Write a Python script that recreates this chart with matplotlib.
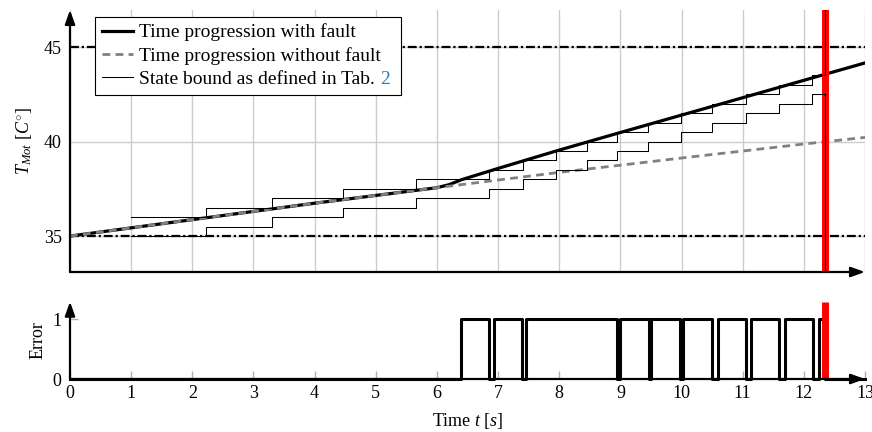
import matplotlib
matplotlib.use("Agg")
import matplotlib.pyplot as plt
import numpy as np

plt.rcParams['font.family'] = ['Liberation Serif', 'DejaVu Serif']
plt.rcParams['mathtext.fontset'] = 'custom'
plt.rcParams['mathtext.rm'] = 'Liberation Serif'
plt.rcParams['mathtext.it'] = 'Liberation Serif:italic'

# ---------------- data ----------------
t_fault = [0, 2, 4, 6.0, 6.2, 6.4, 7, 8, 9, 10, 11, 12, 13]
temp_fault = [35, 35.87, 36.74, 37.56, 37.72, 37.98, 38.58, 39.55, 40.48, 41.40, 42.32, 43.24, 44.16]

t_nominal = [0, 2, 4, 6, 8, 10, 12, 13]
temp_nominal = [35, 35.87, 36.74, 37.56, 38.37, 39.13, 39.87, 40.22]

bound_t = [1.0, 2.22, 3.31, 4.46, 5.65, 6.85, 7.41, 7.95, 8.45, 8.94, 9.45, 9.99, 10.50, 11.05, 11.59, 12.14]
bound_upper = [36.0, 36.5, 37.0, 37.5, 38.0, 38.5, 39.0, 39.5, 40.0, 40.5, 41.0, 41.5, 42.0, 42.5, 43.0, 43.5]
bound_lower = [35.0, 35.5, 36.0, 36.5, 37.0, 37.5, 38.0, 38.5, 39.0, 39.5, 40.0, 40.5, 41.0, 41.5, 42.0, 42.5]

t_stop = 12.34
limit_low = 35
limit_high = 45

error_on = [6.39, 6.94, 7.45, 9.00, 9.50, 10.03, 10.59, 11.14, 11.69, 12.24]
error_off = [6.85, 7.39, 8.94, 9.46, 9.98, 10.49, 11.05, 11.60, 12.15, 12.34]

x_ticks = list(range(0, 14))
y_ticks_top = [35, 40, 45]
y_ticks_bottom = [0, 1]

legend_labels = ['Time progression with fault', 'Time progression without fault',
                 'State bound as defined in Tab.']
table_ref = '2'

# ---------------- figure ----------------
W, H = 872, 432
fig = plt.figure(figsize=(W / 100, H / 100), dpi=100)
ax1 = fig.add_axes([70 / W, (H - 272) / H, 795 / W, 262 / H])
ax2 = fig.add_axes([70 / W, (H - 379) / H, 795 / W, (379 - 301.7) / H])

FS = 13
FS_LEG = 14
grid_col = '#cccccc'

# ----- top axes -----
ax1.set_xlim(0, 13)
ax1.set_ylim(33.1, 46.96)
ax1.set_xticks(x_ticks)
ax1.set_yticks(y_ticks_top)
ax1.tick_params(axis='x', length=0, labelbottom=False)
ax1.tick_params(axis='y', length=0, labelsize=FS, pad=6)
ax1.grid(True, color=grid_col, lw=1.0, zorder=0)
ax1.set_axisbelow(True)
for s in ax1.spines.values():
    s.set_visible(False)

ax1.axhline(limit_high, color='black', lw=1.6, ls=(0, (4, 1.3, 1, 1.3)), zorder=2)
ax1.axhline(limit_low, color='black', lw=1.6, ls=(0, (4, 1.3, 1, 1.3)), zorder=2)

l_fault, = ax1.plot(t_fault, temp_fault, color='black', lw=2.3, zorder=4)
l_nom, = ax1.plot(t_nominal, temp_nominal, color='#808080', lw=2.0, ls=(0, (2.8, 1.9)),
                  zorder=5)

ax1.axvline(t_stop, color='#ff0000', lw=5, zorder=6)

up_x = bound_t + [t_stop, t_stop]
up_y = bound_upper + [bound_upper[-1], 48]
lo_x = bound_t + [t_stop, t_stop]
lo_y = bound_lower + [bound_lower[-1], 32]
l_bound, = ax1.plot(up_x, up_y, color='black', lw=0.75, drawstyle='steps-post', zorder=7)
ax1.plot(lo_x, lo_y, color='black', lw=0.75, drawstyle='steps-post', zorder=7)

ax1.set_ylabel(r'$T_{Mot}\ [C^{\circ}]$', fontsize=FS)
ax1.yaxis.set_label_coords(-0.045, 0.5)

labels = [legend_labels[0], legend_labels[1],
          legend_labels[2] + '\u00a0\u00a0\u00a0\u00a0']
leg = ax1.legend([l_fault, l_nom, l_bound], labels, loc='upper left',
                 bbox_to_anchor=(0.032, 0.974), borderaxespad=0, fontsize=FS_LEG,
                 fancybox=False, framealpha=1, edgecolor='black',
                 handlelength=1.6, handletextpad=0.3, labelspacing=0.28,
                 borderpad=0.35)
leg.get_frame().set_linewidth(0.8)
leg.set_zorder(10)

# ----- bottom axes -----
ax2.set_xlim(0, 13)
ax2.set_ylim(0, 1.29)
ax2.set_xticks(x_ticks)
ax2.set_yticks(y_ticks_bottom)
ax2.tick_params(axis='both', direction='in', length=6, width=1.0, color='#b0b0b0', labelsize=FS)
ax2.tick_params(axis='x', pad=4)
ax2.tick_params(axis='y', pad=6)
for s in ax2.spines.values():
    s.set_visible(False)

ex = [0.0]
ey = [0.0]
for on, off in zip(error_on, error_off):
    ex += [on, on, off, off]
    ey += [0, 1, 1, 0]
ex += [13]
ey += [0]
ax2.plot(ex, ey, color='black', lw=2.2, zorder=4, clip_on=False)
ax2.plot([t_stop, t_stop], [0, 1.29], color='#ff0000', lw=5, zorder=6, solid_capstyle='butt')

ax2.set_ylabel('Error', fontsize=FS)
ax2.yaxis.set_label_coords(-0.030, 0.5)
ax2.set_xlabel(r'Time $t$ $[s]$', fontsize=FS, labelpad=7)

# ----- arrow axes -----
arrow_kw = dict(arrowstyle='-|>,head_length=0.7,head_width=0.25', lw=1.6, color='black',
                mutation_scale=12, shrinkA=0, shrinkB=0)
for ax in (ax1, ax2):
    ax.annotate('', xy=(1, 0), xytext=(0, 0), xycoords='axes fraction',
                arrowprops=arrow_kw, annotation_clip=False, zorder=20)
    ax.annotate('', xy=(0, 1), xytext=(0, 0), xycoords='axes fraction',
                arrowprops=arrow_kw, annotation_clip=False, zorder=20)

# ----- blue reference number in legend -----
fig.canvas.draw()
renderer = fig.canvas.get_renderer()
probe = fig.text(0, 0, legend_labels[2] + ' x', fontsize=FS_LEG)
pw_x = probe.get_window_extent(renderer).width
probe.set_text('x')
w_x = probe.get_window_extent(renderer).width
probe.remove()
txt3 = leg.get_texts()[2]
bb3 = txt3.get_window_extent(renderer)
fig.text(bb3.x0 + pw_x - w_x, bb3.y0, table_ref, fontsize=FS_LEG,
         color='#1f7fc0', ha='left', va='bottom', zorder=30, transform=None)

fig.savefig('out.png', dpi=100)
